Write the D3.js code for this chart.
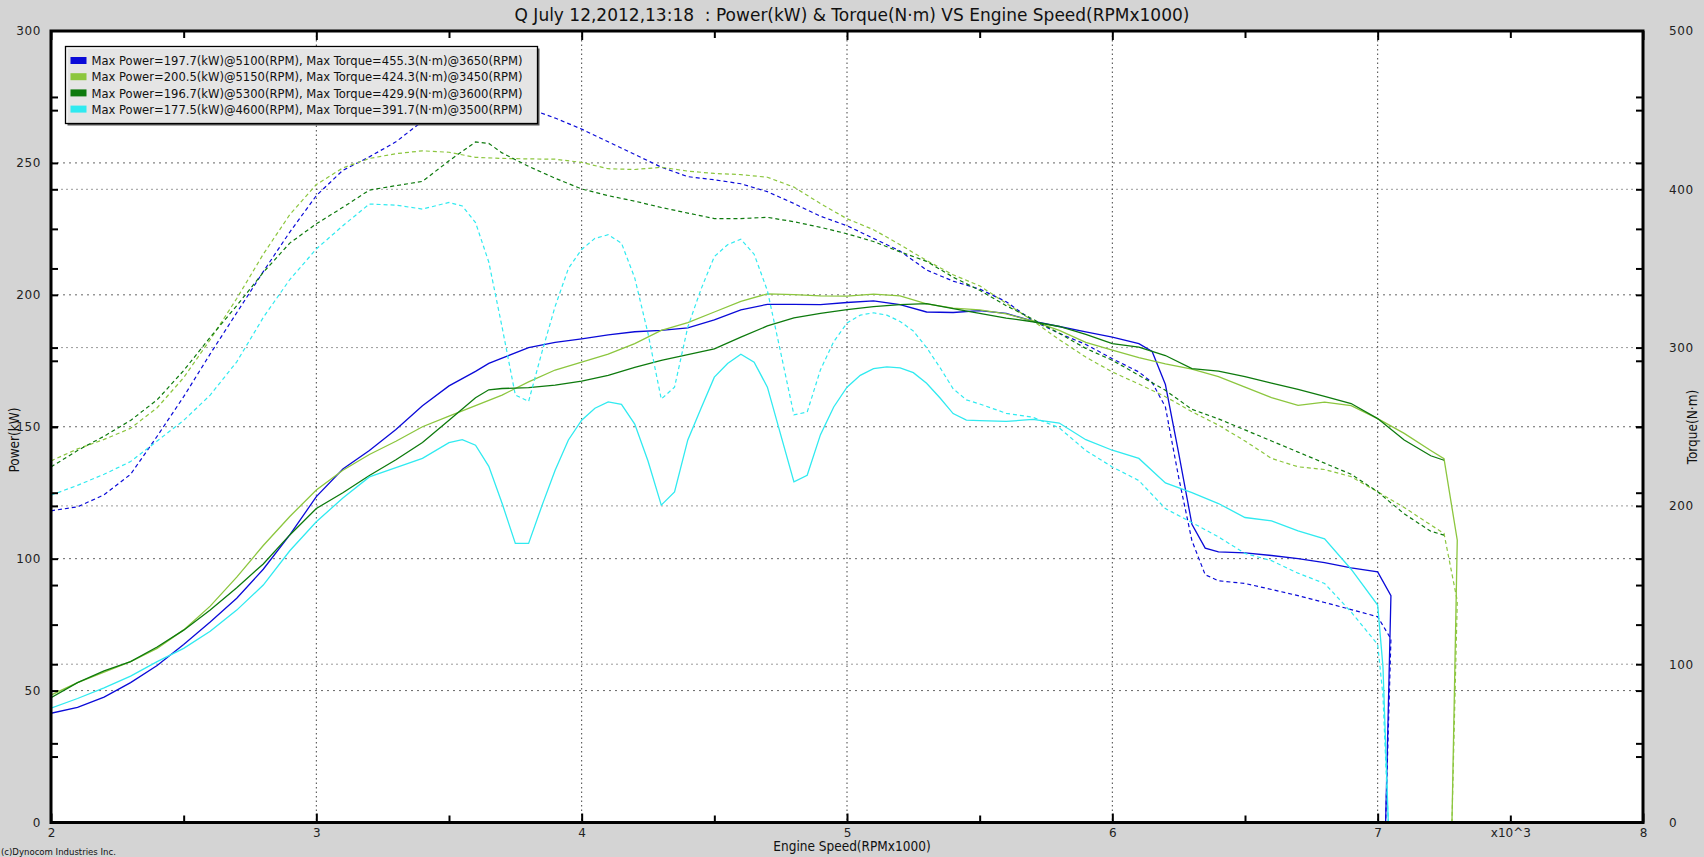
<!DOCTYPE html>
<html><head><meta charset="utf-8">
<script src="https://cdn.jsdelivr.net/npm/d3@7"></script>
<style>body{margin:0;background:#d4d4d4;} svg{display:block}</style>
</head><body><svg id="c" width="1704" height="857"></svg>
<script>
// ---------- DATA ----------
const titleText = "Q July 12,2012,13:18  : Power(kW) & Torque(N\u00b7m) VS Engine Speed(RPMx1000)";
const xLabel = "Engine Speed(RPMx1000)";
const yLeftLabel = "Power(kW)";
const yRightLabel = "Torque(N\u00b7m)";
const copyright = "(c)Dynocom Industries Inc.";

const xMajorTicks = [2, 3, 4, 5, 6, 7, 8];
const xMinorTicks = [2.5, 3.5, 4.5, 5.5, 6.5, 7.5];
const xGridTicks = [3, 4, 5, 6, 7];
const xTickValues = [2, 3, 4, 5, 6, 7, 7.5, 8];
const xTickLabels = ["2", "3", "4", "5", "6", "7", "x10^3", "8"];
const powerLabelTicks = [0, 50, 100, 150, 200, 250, 300];
const powerGridTicks = [50, 100, 150, 200, 250];
const powerMinorTicks = [25, 50, 75, 100, 125, 150, 175, 200, 225, 250, 275];
const torqueLabelTicks = [0, 100, 200, 300, 400, 500];
const torqueGridTicks = [100, 200, 300, 400];
const torqueMinorTicks = [50, 100, 150, 200, 250, 300, 350, 400, 450];

const legendLabels = [
  "Max Power=197.7(kW)@5100(RPM), Max Torque=455.3(N\u00b7m)@3650(RPM)",
  "Max Power=200.5(kW)@5150(RPM), Max Torque=424.3(N\u00b7m)@3450(RPM)",
  "Max Power=196.7(kW)@5300(RPM), Max Torque=429.9(N\u00b7m)@3600(RPM)",
  "Max Power=177.5(kW)@4600(RPM), Max Torque=391.7(N\u00b7m)@3500(RPM)"
];
const seriesColors = ["#0a0ad8", "#8cc63e", "#0d7a0d", "#30eaf0"];

// Run 1 (blue)
const rpmBlue = [2.0,2.1,2.2,2.3,2.4,2.5,2.6,2.7,2.8,2.9,3.0,3.1,3.2,3.3,3.4,3.5,3.6,3.65,3.7,3.8,3.9,4.0,4.1,4.2,4.3,4.4,4.5,4.6,4.7,4.8,4.9,5.0,5.1,5.2,5.3,5.4,5.5,5.6,5.7,5.8,5.9,6.0,6.1,6.15,6.2,6.25,6.3,6.35,6.4,6.5,6.6,6.7,6.8,6.9,7.0,7.05,7.03];
const powerBlue = [41.4,43.6,47.5,53,59.5,67.5,76,85,96,109,123.5,134,141,149,158,165.5,171,174,176,180,182,183.3,184.8,186,186.5,187.5,190.5,194.3,196.4,196.4,196.3,197.1,197.7,196.3,193.5,193.3,194,193,190,188,186,184,181.5,178.5,166,140,113,104,102.6,102.2,101.2,100,98.5,96.5,95,86,0];
const torqueBlue = [196.9,199.4,207,220,244,269,296,322,348,373,396,412,420.5,430,443,452,455,455.3,454,451,445,438,430,422,414,408,406,403.5,398.5,391,383,377,369,361,349,342,337,329,317,309,302,293,284.6,278,262.5,218,178,156.5,152.7,151,147.2,143.3,139,134.5,130,116,0];

// Run 2 (light green)
const rpmLight = [2.0,2.1,2.2,2.3,2.4,2.5,2.6,2.7,2.8,2.9,3.0,3.1,3.2,3.3,3.4,3.5,3.6,3.7,3.8,3.9,4.0,4.1,4.2,4.3,4.4,4.5,4.6,4.7,4.8,4.9,5.0,5.1,5.2,5.3,5.4,5.5,5.6,5.7,5.8,5.9,6.0,6.1,6.2,6.3,6.4,6.5,6.6,6.7,6.8,6.9,7.0,7.1,7.2,7.25,7.3,7.28];
const powerLight = [48.3,53,57,61,66,73,82,93,105,116,126,133.5,139.5,144.5,150,154,158,162,167,171.5,174.5,177.5,181.5,186.5,189.5,193.5,197.5,200.4,200.1,199.6,199.5,200.3,199.6,196.6,195,194.3,192.8,190,186.5,182,179,176.2,173.8,171.8,169,165,161,158.1,159.3,158,153.1,147.5,141,137.9,107,0];
const torqueLight = [228.4,236,242,249,262,281,305,331,359,384,403,413.5,419.5,422.5,424.3,423.4,420.2,419.5,419.2,419,417,413,412.5,413.9,411.5,410,409.3,407.6,401.4,391,381.4,374.5,365,355,346,339,328,317,305,294,284.6,277,269,259.5,251,241,230,224.7,223,218.5,208.9,199,188,182.6,140,0];

// Run 3 (dark green)
const rpmDark = [2.0,2.1,2.2,2.3,2.4,2.5,2.6,2.7,2.8,2.9,3.0,3.1,3.2,3.3,3.4,3.5,3.6,3.65,3.7,3.8,3.9,4.0,4.1,4.2,4.3,4.4,4.5,4.6,4.7,4.8,4.9,5.0,5.1,5.2,5.3,5.4,5.5,5.6,5.7,5.8,5.9,6.0,6.1,6.2,6.3,6.4,6.5,6.6,6.7,6.8,6.9,7.0,7.1,7.2,7.25];
const powerDark = [47.3,53,57.5,61,66.5,72.9,80.5,89,98,109,119,125,131.5,137.5,144,152.5,161,164,164.5,164.8,165.8,167.3,169.5,172.5,175.2,177.3,179.5,184,188.2,191.3,193,194.4,195.5,196.3,196.7,194.8,193,191.2,189.8,188,185,181.5,180.2,177,172,171.1,169,166.5,164.2,161.5,158.8,153.1,145,139,137.3];
const torqueDark = [224.6,235,244,254,267,285.5,306.5,326.5,347.5,366,378.2,388.6,399.5,402.3,405,418,429.9,429,423,414.5,407,400.2,396,392.5,388.5,385,381.5,381.5,382.3,379.5,376,371.9,367,360.5,354.5,344.5,336.2,326.5,318,309,299.5,292,282.5,273,261,255,248,241,234,227,220,208.9,195,184,181.5];

// Run 4 (cyan)
const rpmCyan = [2.0,2.1,2.2,2.3,2.4,2.5,2.6,2.7,2.8,2.9,3.0,3.1,3.2,3.3,3.4,3.5,3.55,3.6,3.65,3.7,3.75,3.8,3.85,3.9,3.95,4.0,4.05,4.1,4.15,4.2,4.25,4.3,4.35,4.4,4.45,4.5,4.55,4.6,4.65,4.7,4.75,4.8,4.85,4.9,4.95,5.0,5.05,5.1,5.15,5.2,5.25,5.3,5.35,5.4,5.45,5.5,5.6,5.7,5.8,5.9,6.0,6.1,6.2,6.3,6.4,6.5,6.6,6.7,6.8,6.9,7.0,7.02,7.04];
const powerCyan = [43.3,47,51,55.5,61,66,72.5,80.5,90,103,114,123,131,134.5,138,144,145.1,143,135,121,105.8,105.8,120,133.5,145,152.5,157,159.4,158.5,151,137,120.3,125.3,145,157,168.8,174,177.5,174.5,165,147,129.1,131.6,147,157.5,165,169.5,172,172.7,172.3,170.5,166.5,161,155,152.5,152.3,152,152.8,151.4,145.1,141.1,138,128.7,125,120.9,115.6,114.3,110.5,107.5,96,82.4,59,0];
const torqueCyan = [206.8,213,220,228,241,254,270,291,319,343,362.3,377,390.7,390,387.5,391.7,389.5,379,354,313,270,266,297,326,350,362,369,371.3,366,344,309,267.5,275,313,337,357.5,365,368.5,359,336,297,257.5,259.3,286,303.8,315.5,320.5,322,320.5,316.5,310.5,300,287.5,274,267,264.4,258.5,256,249.3,235,224.6,216,198.3,189.5,180.4,170,165.4,157.5,151,133,112.5,80,0];

// ---------- CHART ----------
const W = 1704, H = 857;
const L = 51, R = 1643, T = 31, B = 822.5;
const svg = d3.select('#c');
const x = d3.scaleLinear().domain([2, 8]).range([L, R]);
const yP = d3.scaleLinear().domain([0, 300]).range([B, T]);
const yT = d3.scaleLinear().domain([0, 500]).range([B, T]);

svg.append('rect').attr('width', W).attr('height', H).attr('fill', '#d4d4d4');
svg.append('rect').attr('x', L).attr('y', T).attr('width', R - L).attr('height', B - T).attr('fill', '#fff');

svg.append('defs').append('clipPath').attr('id', 'clip')
  .append('rect').attr('x', L).attr('y', T).attr('width', R - L).attr('height', B - T);

// grid
const grid = svg.append('g');
grid.selectAll('.tg').data(torqueGridTicks).join('line')
  .attr('x1', L).attr('x2', R).attr('y1', d => yT(d)).attr('y2', d => yT(d))
  .attr('stroke', '#9a9a9a').attr('stroke-width', 1).attr('stroke-dasharray', '2,3');
grid.selectAll('.pg').data(powerGridTicks).join('line')
  .attr('x1', L).attr('x2', R).attr('y1', d => yP(d)).attr('y2', d => yP(d))
  .attr('stroke', '#666').attr('stroke-width', 1).attr('stroke-dasharray', '2,4');
grid.selectAll('.vg').data(xGridTicks).join('line')
  .attr('x1', d => x(d)).attr('x2', d => x(d)).attr('y1', T).attr('y2', B)
  .attr('stroke', '#444').attr('stroke-width', 1).attr('stroke-dasharray', '1.5,3');

// curves
const series = [
  { rpm: rpmBlue, p: powerBlue, t: torqueBlue },
  { rpm: rpmLight, p: powerLight, t: torqueLight },
  { rpm: rpmDark, p: powerDark, t: torqueDark },
  { rpm: rpmCyan, p: powerCyan, t: torqueCyan }
];
const curves = svg.append('g').attr('clip-path', 'url(#clip)');
const lineP = d3.line().x(d => x(d[0])).y(d => yP(d[1]));
const lineT = d3.line().x(d => x(d[0])).y(d => yT(d[1]));
series.forEach((s, i) => {
  const tp = s.rpm.map((r, k) => [r, s.t[k]]);
  const pp = s.rpm.map((r, k) => [r, s.p[k]]);
  curves.append('path').attr('d', lineT(tp)).attr('fill', 'none')
    .attr('stroke', seriesColors[i]).attr('stroke-width', 1.2).attr('stroke-dasharray', '4,3');
  curves.append('path').attr('d', lineP(pp)).attr('fill', 'none')
    .attr('stroke', seriesColors[i]).attr('stroke-width', 1.3);
});

// frame
svg.append('rect').attr('x', L).attr('y', T).attr('width', R - L).attr('height', B - T)
  .attr('fill', 'none').attr('stroke', '#000').attr('stroke-width', 3);

// ticks
function tickAxis(axisFn, scale, values, size, transform) {
  const a = svg.append('g').attr('transform', transform)
    .call(axisFn(scale).tickValues(values).tickSize(size).tickFormat(''));
  a.select('.domain').remove();
  a.selectAll('line').attr('stroke', '#000').attr('stroke-width', 2);
}
tickAxis(d3.axisBottom, x, xMajorTicks, -9, `translate(0,${B})`);
tickAxis(d3.axisBottom, x, xMinorTicks, -7, `translate(0,${B})`);
tickAxis(d3.axisTop, x, xMajorTicks, -9, `translate(0,${T})`);
tickAxis(d3.axisTop, x, xMinorTicks, -7, `translate(0,${T})`);
tickAxis(d3.axisLeft, yP, powerMinorTicks, -7, `translate(${L},0)`);
tickAxis(d3.axisLeft, yT, torqueMinorTicks, -7, `translate(${L},0)`);
tickAxis(d3.axisRight, yP, powerMinorTicks, -7, `translate(${R},0)`);
tickAxis(d3.axisRight, yT, torqueMinorTicks, -7, `translate(${R},0)`);

// labels
function labelAxis(axis, transform) {
  const a = svg.append('g').attr('transform', transform).call(axis);
  a.select('.domain').remove();
  a.selectAll('line').remove();
  a.selectAll('text').attr('font-family', 'DejaVu Sans').attr('font-size', 12)
    .attr('fill', '#222').attr('letter-spacing', 0.6);
  return a;
}
labelAxis(d3.axisLeft(yP).tickValues(powerLabelTicks).tickSize(0).tickPadding(10), `translate(${L},0)`);
labelAxis(d3.axisRight(yT).tickValues(torqueLabelTicks).tickSize(0).tickPadding(26), `translate(${R},0)`);
const xl = labelAxis(d3.axisBottom(x).tickValues(xTickValues).tickSize(0).tickPadding(6)
  .tickFormat((d, i) => xTickLabels[i]), `translate(0,${B})`);
xl.selectAll('text').attr('letter-spacing', 0);

// title & axis titles
svg.append('text').attr('x', 852).attr('y', 21).attr('text-anchor', 'middle')
  .attr('font-family', 'DejaVu Sans').attr('font-size', 17).attr('fill', '#111')
  .style('white-space', 'pre').text(titleText);
svg.append('text').attr('x', 852).attr('y', 850.5).attr('text-anchor', 'middle')
  .attr('font-family', 'DejaVu Sans Condensed').attr('font-size', 13.5).attr('fill', '#111')
  .text(xLabel);
svg.append('text').attr('transform', 'translate(19,440) rotate(-90)').attr('text-anchor', 'middle')
  .attr('font-family', 'DejaVu Sans Condensed').attr('font-size', 13.5).attr('fill', '#111')
  .text(yLeftLabel);
svg.append('text').attr('transform', 'translate(1697,427) rotate(-90)').attr('text-anchor', 'middle')
  .attr('font-family', 'DejaVu Sans Condensed').attr('font-size', 13.5).attr('fill', '#111')
  .text(yRightLabel);
svg.append('text').attr('x', 1).attr('y', 855)
  .attr('font-family', 'DejaVu Sans Condensed').attr('font-size', 9.5).attr('fill', '#111')
  .text(copyright);

// legend
const lg = svg.append('g').attr('transform', 'translate(65.5,46.5)');
lg.append('rect').attr('x', 2).attr('y', 2).attr('width', 472).attr('height', 77).attr('fill', '#555');
lg.append('rect').attr('width', 472).attr('height', 77).attr('fill', '#fff').attr('fill-opacity', 0.85)
  .attr('stroke', '#000').attr('stroke-width', 1.3);
legendLabels.forEach((t, i) => {
  const yy = 14 + i * 16.2;
  lg.append('rect').attr('x', 5).attr('y', yy - 3.5).attr('width', 16).attr('height', 7).attr('fill', seriesColors[i]);
  lg.append('text').attr('x', 26).attr('y', yy + 4.6)
    .attr('font-family', 'DejaVu Sans Condensed').attr('font-size', 13).attr('fill', '#111')
    .attr('textLength', 431).attr('lengthAdjust', 'spacingAndGlyphs').text(t);
});
</script></body></html>
